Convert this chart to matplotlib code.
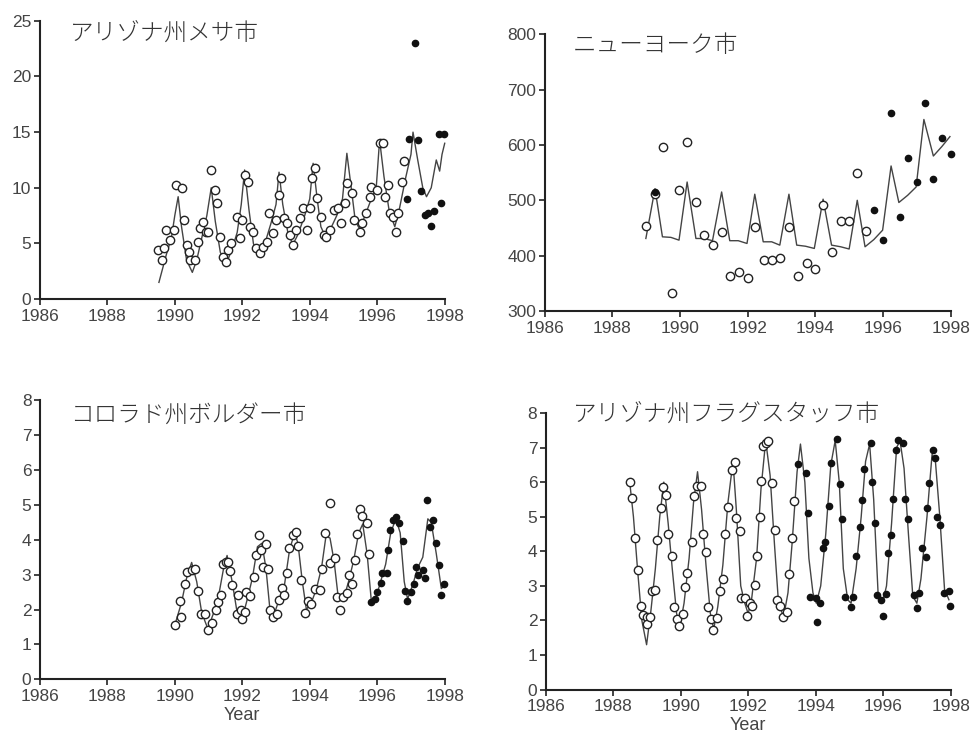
import matplotlib
matplotlib.use("Agg")
import matplotlib.pyplot as plt

plt.rcParams['font.family'] = ['Liberation Sans Narrow', 'Liberation Sans', 'DejaVu Sans']
jp = ['Noto Sans CJK JP', 'DejaVu Sans']

# ---- Mesa, Arizona ----
mesa_open_t = [1989.51, 1989.62, 1989.68, 1989.75, 1989.85, 1989.97, 1990.05, 1990.2, 1990.27, 1990.35,
               1990.42, 1990.44, 1990.59, 1990.69, 1990.74, 1990.84, 1990.94, 1990.99, 1991.06, 1991.19,
               1991.25, 1991.33, 1991.43, 1991.53, 1991.58, 1991.68, 1991.83, 1991.93, 1992.0, 1992.07,
               1992.17, 1992.22, 1992.32, 1992.42, 1992.52, 1992.62, 1992.72, 1992.8, 1992.91, 1992.99,
               1993.09, 1993.16, 1993.24, 1993.33, 1993.41, 1993.51, 1993.6, 1993.7, 1993.8, 1993.92,
               1994.0, 1994.08, 1994.15, 1994.22, 1994.32, 1994.41, 1994.49, 1994.59, 1994.72, 1994.84,
               1994.94, 1995.04, 1995.11, 1995.26, 1995.3, 1995.48, 1995.56, 1995.66, 1995.78, 1995.83,
               1995.98, 1996.07, 1996.17, 1996.22, 1996.32, 1996.37, 1996.47, 1996.55, 1996.62, 1996.72,
               1996.79]
mesa_open_v = [4.4, 3.5, 4.55, 6.2, 5.3, 6.2, 10.25, 10.0, 7.1, 4.9,
               4.25, 3.5, 3.5, 5.15, 6.35, 6.95, 6.05, 6.0, 11.6, 9.8,
               8.6, 5.6, 3.8, 3.35, 4.4, 5.0, 7.4, 5.45, 7.1, 11.15,
               10.55, 6.5, 6.05, 4.55, 4.1, 4.7, 5.15, 7.7, 5.9, 7.1,
               9.35, 10.85, 7.25, 6.8, 5.75, 4.85, 6.2, 7.25, 8.15, 6.2,
               8.15, 10.85, 11.75, 9.05, 7.4, 5.75, 5.6, 6.2, 8.0, 8.15,
               6.8, 8.6, 10.4, 9.5, 7.1, 6.05, 6.8, 7.7, 9.2, 10.1,
               9.8, 14.05, 14.05, 9.2, 10.25, 7.7, 7.4, 6.05, 7.7, 10.55,
               12.45]
mesa_fill_t = [1996.88, 1996.94, 1997.11, 1997.21, 1997.31, 1997.41, 1997.5, 1997.6, 1997.68, 1997.9, 1997.83, 1997.98]
mesa_fill_v = [8.95, 14.35, 23.0, 14.3, 9.75, 7.55, 7.7, 6.55, 7.9, 8.65, 14.85, 14.85]
mesa_line_t = [1989.53, 1989.75, 1989.9, 1990.0, 1990.1, 1990.2, 1990.35, 1990.52, 1990.65, 1990.8,
               1990.95, 1991.08, 1991.2, 1991.35, 1991.53, 1991.7, 1991.85, 1991.97, 1992.07, 1992.2,
               1992.33, 1992.47, 1992.65, 1992.85, 1993.0, 1993.09, 1993.2, 1993.35, 1993.5, 1993.65,
               1993.85, 1994.0, 1994.1, 1994.22, 1994.33, 1994.45, 1994.6, 1994.8, 1994.97, 1995.1,
               1995.25, 1995.35, 1995.46, 1995.6, 1995.8, 1995.97, 1996.07, 1996.2, 1996.35, 1996.52,
               1996.65, 1996.85, 1997.0, 1997.06, 1997.2, 1997.35, 1997.46, 1997.6, 1997.75, 1997.85,
               1997.92, 1998.0]
mesa_line_v = [1.5, 4.0, 5.5, 7.5, 9.2, 6.5, 3.5, 2.4, 3.5, 5.5,
               7.5, 10.0, 7.0, 4.2, 3.2, 4.5, 6.0, 8.5, 11.6, 8.0,
               5.0, 3.8, 4.8, 6.8, 8.5, 11.4, 8.5, 6.0, 4.9, 5.8,
               7.5, 9.0, 12.2, 9.0, 6.5, 5.7, 6.2, 7.5, 9.0, 13.1,
               9.5, 7.0, 6.4, 7.2, 8.8, 10.0, 14.3, 11.0, 8.0, 6.5,
               8.0, 11.0, 13.0, 15.0, 12.5, 10.0, 9.2, 10.0, 12.5, 11.5,
               13.0, 14.0]

# ---- New York City ----
ny_open_t = [1988.99, 1989.27, 1989.5, 1989.75, 1989.97, 1990.21, 1990.47, 1990.71, 1990.98, 1991.23,
             1991.47, 1991.74, 1992.0, 1992.21, 1992.48, 1992.71, 1992.95, 1993.22, 1993.48, 1993.74,
             1993.99, 1994.23, 1994.5, 1994.75, 1995.0, 1995.24, 1995.49]
ny_open_v = [454, 512, 597, 332, 518, 606, 497, 437, 419, 442,
             363, 371, 359, 452, 393, 393, 395, 452, 364, 387,
             376, 491, 406, 463, 463, 550, 444]
ny_fill_t = [1989.27, 1995.73, 1995.99, 1996.24, 1996.5, 1996.75, 1997.0, 1997.24, 1997.49, 1997.76, 1998.01]
ny_fill_v = [515, 482, 428, 658, 469, 577, 533, 676, 538, 613, 583]
ny_line_t = [1988.99, 1989.26, 1989.48, 1989.73, 1989.97, 1990.21, 1990.47, 1990.71, 1990.96, 1991.23,
             1991.47, 1991.72, 1991.98, 1992.21, 1992.46, 1992.71, 1992.95, 1993.22, 1993.45, 1993.71,
             1993.97, 1994.23, 1994.48, 1994.75, 1995.0, 1995.24, 1995.47, 1995.73, 1995.99, 1996.24,
             1996.47, 1996.73, 1996.98, 1997.21, 1997.49, 1997.74, 1997.98]
ny_line_v = [431, 521, 434, 433, 428, 533, 431, 431, 427, 515,
             427, 427, 422, 511, 425, 425, 419, 511, 419, 417,
             413, 502, 419, 416, 412, 500, 416, 429, 446, 562,
             496, 509, 524, 646, 580, 597, 615]

# ---- Boulder, Colorado ----
bo_open_t = [1990.0, 1990.18, 1990.15, 1990.3, 1990.37, 1990.52, 1990.59, 1990.69, 1990.79, 1990.89,
             1990.99, 1991.09, 1991.21, 1991.28, 1991.36, 1991.43, 1991.51, 1991.58, 1991.65, 1991.7,
             1991.85, 1991.88, 1991.95, 1992.0, 1992.07, 1992.12, 1992.24, 1992.34, 1992.4, 1992.5,
             1992.57, 1992.62, 1992.7, 1992.77, 1992.81, 1992.91, 1993.03, 1993.09, 1993.19, 1993.23,
             1993.33, 1993.39, 1993.49, 1993.59, 1993.65, 1993.75, 1993.85, 1993.95, 1994.05, 1994.15,
             1994.3, 1994.37, 1994.44, 1994.59, 1994.61, 1994.74, 1994.81, 1994.91, 1994.99, 1995.09,
             1995.17, 1995.24, 1995.33, 1995.4, 1995.48, 1995.56, 1995.7, 1995.75]
bo_open_v = [1.57, 1.79, 2.24, 2.72, 3.08, 3.13, 3.17, 2.53, 1.88, 1.88,
             1.42, 1.6, 2.0, 2.22, 2.43, 3.3, 3.37, 3.37, 3.11, 2.7,
             1.88, 2.41, 1.98, 1.74, 1.93, 2.5, 2.38, 2.94, 3.56, 4.13,
             3.7, 3.22, 3.89, 3.17, 1.98, 1.79, 1.88, 2.27, 2.63, 2.41,
             3.05, 3.75, 4.13, 4.23, 3.82, 2.84, 1.9, 2.25, 2.17, 2.6,
             2.57, 3.17, 4.2, 3.32, 5.06, 3.48, 2.36, 2.0, 2.36, 2.46,
             3.0, 2.74, 3.43, 4.16, 4.89, 4.67, 4.48, 3.58]
bo_fill_t = [1995.83, 1995.93, 1996.0, 1996.12, 1996.15, 1996.29, 1996.32, 1996.39, 1996.47, 1996.57,
             1996.65, 1996.75, 1996.81, 1996.89, 1997.01, 1997.09, 1997.16, 1997.21, 1997.36, 1997.41,
             1997.48, 1997.56, 1997.65, 1997.75, 1997.83, 1997.9, 1997.98]
bo_fill_v = [2.22, 2.31, 2.5, 2.76, 3.05, 3.05, 3.72, 4.29, 4.58, 4.66,
             4.48, 3.97, 2.53, 2.25, 2.5, 2.72, 3.22, 2.98, 3.13, 2.89,
             5.13, 4.37, 4.56, 3.91, 3.27, 2.41, 2.72]
bo_line_t = [1990.0, 1990.2, 1990.35, 1990.5, 1990.65, 1990.8, 1990.98, 1991.15, 1991.3, 1991.45,
             1991.55, 1991.7, 1991.85, 1992.0, 1992.15, 1992.3, 1992.45, 1992.58, 1992.7, 1992.82,
             1992.92, 1993.1, 1993.25, 1993.4, 1993.55, 1993.65, 1993.78, 1993.9, 1994.05, 1994.2,
             1994.35, 1994.48, 1994.6, 1994.72, 1994.85, 1995.0, 1995.15, 1995.3, 1995.45, 1995.57,
             1995.7, 1995.82, 1995.95, 1996.1, 1996.25, 1996.4, 1996.55, 1996.68, 1996.8, 1996.9,
             1997.05, 1997.2, 1997.35, 1997.5, 1997.6, 1997.75, 1997.9, 1998.0]
bo_line_v = [1.55, 2.2, 2.9, 3.35, 2.8, 1.9, 1.45, 1.9, 2.4, 3.2,
             3.55, 2.8, 1.9, 1.75, 2.3, 2.9, 3.8, 3.9, 3.2, 2.0,
             1.8, 2.3, 2.7, 3.7, 4.2, 3.9, 2.8, 2.0, 2.2, 2.6,
             3.2, 4.1, 4.05, 3.4, 2.3, 2.3, 2.8, 3.4, 4.2, 4.45,
             3.6, 2.3, 2.3, 2.8, 3.3, 4.2, 4.6, 4.2, 2.8, 2.3,
             2.7, 3.2, 3.5, 4.6, 4.5, 3.6, 2.6, 2.7]

# ---- Flagstaff, Arizona ----
fl_open_t = [1988.49, 1988.57, 1988.64, 1988.74, 1988.82, 1988.89, 1988.99, 1989.01, 1989.1, 1989.16,
             1989.25, 1989.31, 1989.41, 1989.48, 1989.58, 1989.63, 1989.75, 1989.81, 1989.88, 1989.95,
             1990.08, 1990.12, 1990.2, 1990.34, 1990.4, 1990.47, 1990.59, 1990.65, 1990.74, 1990.81,
             1990.91, 1990.96, 1991.08, 1991.18, 1991.24, 1991.31, 1991.41, 1991.51, 1991.6, 1991.65,
             1991.75, 1991.8, 1991.9, 1991.97, 1992.05, 1992.1, 1992.2, 1992.27, 1992.35, 1992.38,
             1992.45, 1992.52, 1992.59, 1992.71, 1992.81, 1992.85, 1992.94, 1993.04, 1993.14, 1993.22,
             1993.29, 1993.36]
fl_open_v = [6.01, 5.53, 4.38, 3.46, 2.42, 2.16, 2.1, 1.89, 2.1, 2.84,
             2.88, 4.33, 5.26, 5.85, 5.63, 4.5, 3.85, 2.4, 2.05, 1.85,
             2.18, 2.96, 3.37, 4.26, 5.6, 5.9, 5.9, 4.5, 3.99, 2.4,
             2.04, 1.73, 2.07, 2.86, 3.2, 4.49, 5.29, 6.35, 6.59, 4.95,
             4.59, 2.64, 2.64, 2.13, 2.52, 2.42, 3.03, 3.85, 5.0, 6.03,
             7.04, 7.12, 7.19, 5.96, 4.62, 2.58, 2.43, 2.1, 2.26, 3.34,
             4.39, 5.46]
fl_fill_t = [1993.48, 1993.7, 1993.78, 1993.83, 1994.0, 1994.03, 1994.12, 1994.22, 1994.29, 1994.39,
             1994.45, 1994.62, 1994.72, 1994.77, 1994.87, 1995.04, 1995.11, 1995.21, 1995.31, 1995.38,
             1995.43, 1995.63, 1995.66, 1995.77, 1995.83, 1995.95, 1996.0, 1996.1, 1996.14, 1996.24,
             1996.3, 1996.37, 1996.44, 1996.59, 1996.64, 1996.74, 1996.92, 1996.99, 1997.07, 1997.15,
             1997.28, 1997.3, 1997.37, 1997.47, 1997.55, 1997.6, 1997.7, 1997.8, 1997.94, 1997.97]
fl_fill_v = [6.51, 6.25, 5.12, 2.69, 2.64, 1.97, 2.5, 4.09, 4.28, 5.31,
             6.54, 7.26, 5.94, 4.92, 2.69, 2.38, 2.69, 3.87, 4.71, 5.48,
             6.39, 7.12, 6.01, 4.83, 2.74, 2.6, 2.12, 2.76, 3.96, 4.47,
             5.5, 6.94, 7.21, 7.12, 5.5, 4.92, 2.74, 2.36, 2.79, 4.09,
             3.83, 5.26, 5.98, 6.94, 6.7, 5.0, 4.76, 2.79, 2.84, 2.42]
fl_line_t = [1988.49, 1988.6, 1988.72, 1988.85, 1988.99, 1989.12, 1989.25, 1989.38, 1989.5, 1989.63,
             1989.75, 1989.88, 1989.97, 1990.1, 1990.25, 1990.38, 1990.5, 1990.62, 1990.75, 1990.88,
             1990.98, 1991.1, 1991.25, 1991.4, 1991.55, 1991.65, 1991.78, 1991.9, 1992.0, 1992.1,
             1992.25, 1992.38, 1992.52, 1992.65, 1992.78, 1992.9, 1993.05, 1993.18, 1993.3, 1993.45,
             1993.55, 1993.68, 1993.8, 1993.92, 1994.02, 1994.15, 1994.3, 1994.45, 1994.58, 1994.7,
             1994.82, 1994.95, 1995.05, 1995.2, 1995.35, 1995.48, 1995.6, 1995.72, 1995.85, 1995.98,
             1996.1, 1996.25, 1996.4, 1996.5, 1996.62, 1996.75, 1996.88, 1997.0, 1997.12, 1997.3,
             1997.45, 1997.55, 1997.68, 1997.82, 1997.95]
fl_line_v = [6.0, 5.0, 3.5, 2.0, 1.3, 2.3, 3.5, 5.0, 6.0, 4.8,
             3.5, 2.2, 1.8, 2.5, 3.8, 5.4, 6.3, 5.2, 3.6, 2.2,
             1.75, 2.4, 3.6, 5.4, 6.6, 5.2, 3.0, 2.5, 2.2, 2.6,
             3.8, 5.8, 7.2, 6.2, 4.2, 2.5, 2.1, 2.8, 4.2, 6.3,
             7.1, 6.0, 3.8, 2.8, 2.5, 3.0, 4.5, 6.5, 7.2, 6.0,
             3.5, 2.6, 2.5, 3.5, 5.0, 6.6, 7.1, 5.5, 2.8, 2.5,
             3.0, 4.8, 7.0, 7.2, 6.4, 4.5, 2.7, 2.5, 3.2, 5.0,
             6.8, 6.6, 5.0, 2.9, 2.6]

panels = [
    ("アリゾナ州メサ市", [0.041, 0.598, 0.417, 0.374], (0, 25), [0, 5, 10, 15, 20, 25], (0.074, 0.95),
     mesa_open_t, mesa_open_v, mesa_fill_t, mesa_fill_v, mesa_line_t, mesa_line_v, False),
    ("ニューヨーク市", [0.561, 0.582, 0.418, 0.372], (300, 800), [300, 400, 500, 600, 700, 800], (0.069, 0.96),
     ny_open_t, ny_open_v, ny_fill_t, ny_fill_v, ny_line_t, ny_line_v, False),
    ("コロラド州ボルダー市", [0.041, 0.087, 0.417, 0.375], (0, 8), list(range(9)), (0.074, 0.946),
     bo_open_t, bo_open_v, bo_fill_t, bo_fill_v, bo_line_t, bo_line_v, True),
    ("アリゾナ州フラグスタッフ市", [0.562, 0.073, 0.417, 0.372], (0, 8), list(range(9)), (0.067, 0.99),
     fl_open_t, fl_open_v, fl_fill_t, fl_fill_v, fl_line_t, fl_line_v, True),
]

fig = plt.figure(figsize=(9.71, 7.44), dpi=100)
for (title, rect, ylim, yticks, tpos, ot, ov, ft, fv, lt, lv, year) in panels:
    ax = fig.add_axes(rect)
    ax.plot(lt, lv, color='#444444', lw=1.0, zorder=1, clip_on=False)
    ax.plot(ot, ov, 'o', mfc='white', mec='#222222', mew=1.0, ms=6, zorder=2, clip_on=False)
    ax.plot(ft, fv, 'o', color='#111111', ms=4.5, zorder=3, clip_on=False)
    ax.set_xlim(1986, 1998)
    ax.set_ylim(*ylim)
    ax.set_xticks(range(1986, 1999, 2))
    ax.set_yticks(yticks)
    for s in ['top', 'right']:
        ax.spines[s].set_visible(False)
    for s in ['left', 'bottom']:
        ax.spines[s].set_linewidth(1.5)
        ax.spines[s].set_color('#222222')
    ax.tick_params(direction='out', length=4, width=1.2, color='#222222',
                   labelsize=12.5, labelcolor='#444444', pad=2)
    ax.tick_params(axis='x', pad=3)
    ax.text(tpos[0], tpos[1], title, transform=ax.transAxes, family=jp, fontsize=17,
            fontweight='light', color='#333333', va='center', ha='left')
    if year:
        ax.set_xlabel('Year', fontsize=13, color='#444444', labelpad=2)

fig.savefig('out.png', dpi=100)
